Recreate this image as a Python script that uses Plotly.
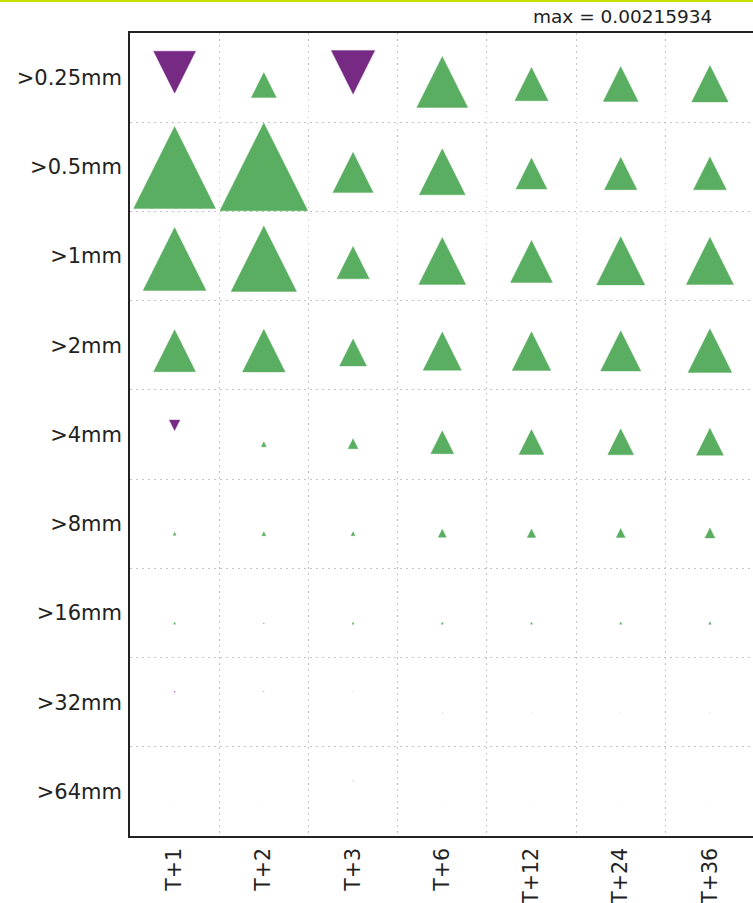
import plotly.graph_objects as go

# Forecast lead times (columns) and rainfall thresholds (rows)
LEADS = ["T+1", "T+2", "T+3", "T+6", "T+12", "T+24", "T+36"]
THRESHOLDS = [">0.25mm", ">0.5mm", ">1mm", ">2mm", ">4mm", ">8mm", ">16mm", ">32mm", ">64mm"]

# Score difference per threshold, one value per lead time
gt_0p25 = [-0.001031, 0.000613, -0.001067, 0.001251, 0.000817, 0.000859, 0.000896]
gt_0p5 = [0.002012, 0.00215934, 0.000989, 0.001129, 0.000761, 0.000797, 0.000810]
gt_1 = [0.001546, 0.001607, 0.000797, 0.001153, 0.001031, 0.001185, 0.001161]
gt_2 = [0.001031, 0.001048, 0.000663, 0.000940, 0.000950, 0.000989, 0.001075]
gt_4 = [-0.000258, 0.000123, 0.000245, 0.000564, 0.000613, 0.000638, 0.000663]
gt_8 = [0.000074, 0.000098, 0.000098, 0.000196, 0.000209, 0.000221, 0.000245]
gt_16 = [0.000049, 0.000025, 0.000049, 0.000049, 0.000049, 0.000054, 0.000061]
gt_32 = [-0.000022, -0.000016, -0.000010, 0.000012, 0.000010, 0.000010, 0.000014]
gt_64 = [0.000004, 0.000004, -0.000012, 0.000004, 0.000004, 0.000004, 0.000004]

ROWS = [gt_0p25, gt_0p5, gt_1, gt_2, gt_4, gt_8, gt_16, gt_32, gt_64]

POS_COLOR = "#5aae61"
NEG_COLOR = "#762a83"
SCALE = 0.985  # triangle size (in cells) of the largest magnitude

vmax = max(abs(v) for row in ROWS for v in row)

# Build triangle outlines in data coordinates: up for positive, down for negative
xs_up, ys_up, xs_dn, ys_dn = [], [], [], []
for j, row in enumerate(ROWS):
    for i, v in enumerate(row):
        h = SCALE * abs(v) / vmax
        off = 0.117 + 0.048 * h
        if v >= 0:
            yc = j + off
            xs_up += [i - h / 2, i + h / 2, i, i - h / 2, None]
            ys_up += [yc + h / 3, yc + h / 3, yc - 2 * h / 3, yc + h / 3, None]
        else:
            yc = j - off
            xs_dn += [i - h / 2, i + h / 2, i, i - h / 2, None]
            ys_dn += [yc - h / 3, yc - h / 3, yc + 2 * h / 3, yc - h / 3, None]

fig = go.Figure()
fig.add_trace(go.Scatter(x=xs_up, y=ys_up, mode="lines", fill="toself",
                         fillcolor=POS_COLOR, line=dict(color=POS_COLOR, width=0.4),
                         hoverinfo="skip"))
fig.add_trace(go.Scatter(x=xs_dn, y=ys_dn, mode="lines", fill="toself",
                         fillcolor=NEG_COLOR, line=dict(color=NEG_COLOR, width=0.4),
                         hoverinfo="skip"))

W, H = 753, 903
ML, MT, MB = 130, 33, 67
plot_w = W - ML
plot_h = H - MT - MB
cell = plot_h / len(THRESHOLDS)

grid = dict(showgrid=True, gridcolor="#c4c4c4", griddash="1.5px,4.5px", gridwidth=1.4)

fig.update_layout(
    width=W, height=H,
    margin=dict(l=ML, r=0, t=MT, b=MB, pad=0, autoexpand=False),
    plot_bgcolor="white", paper_bgcolor="white",
    showlegend=False,
    font=dict(family="DejaVu Sans", size=21, color="#222222"),
    xaxis=dict(
        range=[-0.5, -0.5 + plot_w / cell], automargin=False,
        tickmode="array", tickvals=list(range(len(LEADS))), ticktext=LEADS,
        tickangle=-90, ticks="", ticklabelstandoff=2,
        tickfont=dict(size=20.5),
        showgrid=False, zeroline=False,
        showline=True, linecolor="#222222", linewidth=1.6, mirror=True,
        minor=dict(tickvals=[i + 0.5 for i in range(len(LEADS) - 1)], ticks="", **grid),
    ),
    yaxis=dict(
        range=[len(THRESHOLDS) - 0.5, -0.5], automargin=False,
        tickmode="array", tickvals=list(range(len(THRESHOLDS))), ticktext=THRESHOLDS,
        ticks="", ticklabelstandoff=2,
        showgrid=False, zeroline=False,
        showline=True, linecolor="#222222", linewidth=1.6, mirror=False,
        minor=dict(tickvals=[j + 0.5 for j in range(len(THRESHOLDS) - 1)], ticks="", **grid),
    ),
    annotations=[dict(
        text=f"max = {vmax:g}", xref="paper", yref="paper",
        x=(622 - ML) / plot_w, y=(H - MB - 17) / plot_h,
        xanchor="center", yanchor="middle", showarrow=False,
        font=dict(family="DejaVu Sans", size=18.5, color="#222222"),
    )],
    shapes=[dict(
        type="line", xref="paper", yref="paper",
        x0=-ML / plot_w, x1=1.0, y0=(H - MB - 1) / plot_h, y1=(H - MB - 1) / plot_h,
        line=dict(color="#c8e000", width=2),
    )],
)

fig.write_html("out.html")
